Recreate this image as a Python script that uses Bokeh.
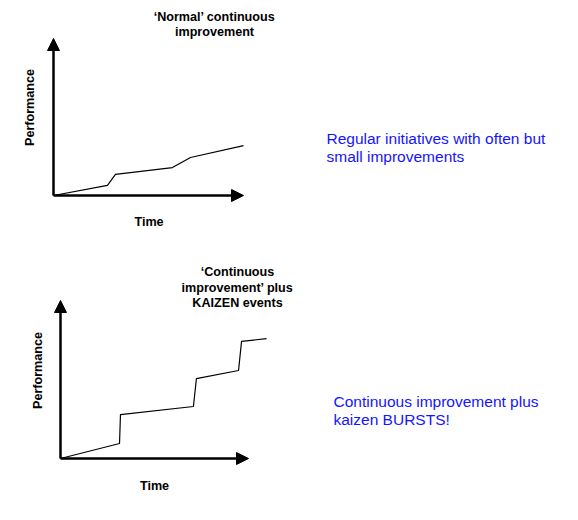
from math import pi
from bokeh.plotting import figure
from bokeh.models import Range1d, Arrow, NormalHead, Label
from bokeh.embed import file_html
from bokeh.resources import INLINE

# ---- data (arbitrary time / performance units) ----
top_time = [0, 2.84, 3.26, 6.26, 7.21, 10.0]
top_perf = [0, 0.64, 1.34, 1.78, 2.42, 3.18]
bot_time = [0, 3.14, 3.19, 7.07, 7.23, 9.47, 9.63, 10.96]
bot_perf = [0, 0.95, 2.78, 3.29, 5.06, 5.57, 7.41, 7.59]
axis_max = 10

top_title = ["\u2018Normal\u2019 continuous", "improvement"]
bot_title = ["\u2018Continuous", "improvement\u2019 plus", "KAIZEN events"]
top_note = ["Regular initiatives with often but", "small improvements"]
bot_note = ["Continuous improvement plus", "kaizen BURSTS!"]

W, H = 578, 520
p = figure(width=W, height=H, output_backend="svg", toolbar_location=None,
           x_range=Range1d(0, W), y_range=Range1d(H, 0),
           x_axis_location=None, y_axis_location=None, min_border=0)
p.grid.visible = False
p.outline_line_color = None
p.background_fill_color = "white"


def add_panel(name, ox, oy, sx, sy, t, v):
    p.extra_x_ranges[name + "x"] = Range1d(-ox / sx, (W - ox) / sx)
    p.extra_y_ranges[name + "y"] = Range1d((oy - H) / sy, oy / sy)
    kw = dict(x_range_name=name + "x", y_range_name=name + "y")
    for xe, ye in [(axis_max, 0), (0, axis_max)]:
        p.add_layout(Arrow(end=NormalHead(size=12, fill_color="black", line_color="black"),
                           x_start=0, y_start=0, x_end=xe, y_end=ye,
                           line_width=2.5, line_color="black", **kw))
    p.line(t, v, line_color="black", line_width=1.2, **kw)


add_panel("top", 53, 195, 19.0, 15.7, top_time, top_perf)
add_panel("bot", 60, 458, 18.8, 15.8, bot_time, bot_perf)

D = 4.5  # baseline correction


def lab(x, y, text, size="12.6px", bold=True, color="black", align="center", angle=0):
    if angle:
        x -= D
    else:
        y -= D
    p.add_layout(Label(x=x, y=y, text=text, text_font="Liberation Sans",
                       text_font_style="bold" if bold else "normal",
                       text_font_size=size, text_color=color, text_align=align,
                       text_baseline="alphabetic", angle=angle))


# top panel texts
for i, s in enumerate(top_title):
    lab(214, 21 + 15 * i, s)
lab(34, 107, "Performance", angle=pi / 2)
lab(148.5, 226, "Time")

# bottom panel texts
for i, s in enumerate(bot_title):
    lab(237, 276 + 15.5 * i, s)
lab(42, 370, "Performance", angle=pi / 2)
lab(154, 490, "Time")

# notes
for i, s in enumerate(top_note):
    lab(326, 142 + 18 * i, s, size="15.5px", bold=False, color="#1414ff", align="left")
for i, s in enumerate(bot_note):
    lab(333, 405 + 18 * i, s, size="15.5px", bold=False, color="#1414ff", align="left")

open("out.html", "w").write(file_html(p, INLINE))
